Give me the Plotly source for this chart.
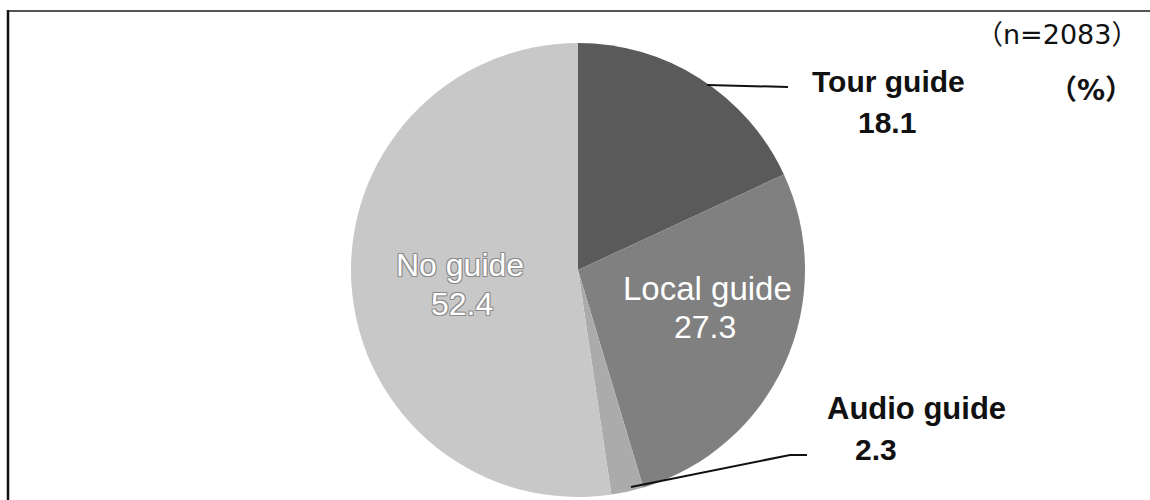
import plotly.graph_objects as go

# Guide usage shares (%), clockwise from 12 o'clock
categories = ["Tour guide", "Local guide", "Audio guide", "No guide"]
shares = [18.1, 27.3, 2.3, 52.4]
slice_colors = ["#5a5a5a", "#808080", "#ababab", "#c8c8c8"]
sample_note = "（n=2083）"
unit_note = "（%）"

W, H = 1150, 500


def px(x):
    return x / W


def py(y):
    return 1 - y / H


# pie geometry in pixels
cx, cy, r = 578, 270, 227

fig = go.Figure(
    go.Pie(
        labels=categories,
        values=shares,
        sort=False,
        direction="clockwise",
        rotation=0,
        marker=dict(colors=slice_colors, line=dict(width=0)),
        textinfo="none",
        hoverinfo="label+value",
        showlegend=False,
        domain=dict(x=[px(cx - r), px(cx + r)], y=[py(cy + r), py(cy - r)]),
    )
)

font_lbl = "Liberation Sans, Arial, sans-serif"


def label(text, x, y, color, bold, size, shadow=None):
    f = dict(family=font_lbl, size=size, color=color,
             weight="bold" if bold else "normal")
    if shadow:
        f["shadow"] = shadow
    return dict(text=text, x=px(x), y=py(y), xref="paper", yref="paper",
                showarrow=False, xanchor="center", yanchor="middle", font=f)


outline = "1px 1px 0 #8a8a8a, -1px -1px 0 #8a8a8a, 1px -1px 0 #8a8a8a, -1px 1px 0 #8a8a8a"

annotations = [
    label(categories[0], 888, 81, "#111111", True, 30),
    label(f"{shares[0]}", 887, 122, "#111111", True, 30),
    label(categories[1], 707, 288, "#ffffff", False, 33),
    label(f"{shares[1]}", 705, 327, "#ffffff", False, 32),
    label(categories[2], 916, 408, "#111111", True, 31),
    label(f"{shares[2]}", 876, 449, "#111111", True, 30),
    label(categories[3], 460, 265, "#ffffff", False, 32, outline),
    label(f"{shares[3]}", 462, 304, "#ffffff", False, 32, outline),
    dict(text=sample_note, x=px(1057), y=py(34), xref="paper", yref="paper",
         showarrow=False, xanchor="center", yanchor="middle",
         font=dict(family="DejaVu Sans, Noto Sans CJK JP", size=27,
                   color="#111111")),
    dict(text=unit_note, x=px(1091), y=py(91), xref="paper", yref="paper",
         showarrow=False, xanchor="center", yanchor="middle",
         font=dict(family="DejaVu Sans, Noto Sans CJK JP", size=28,
                   color="#111111", weight="bold")),
]


def path(points):
    return "M " + " L ".join(f"{px(x)},{py(y)}" for x, y in points)


shapes = [
    # frame: top rule and left rule
    dict(type="line", xref="paper", yref="paper", x0=px(7), x1=1,
         y0=py(11), y1=py(11), line=dict(color="#555555", width=2)),
    dict(type="line", xref="paper", yref="paper", x0=px(8), x1=px(8),
         y0=py(10), y1=0, line=dict(color="#111111", width=2.5)),
    # leader lines
    dict(type="path", xref="paper", yref="paper",
         path=path([(707, 85), (788, 87)]),
         line=dict(color="#111111", width=2)),
    dict(type="path", xref="paper", yref="paper",
         path=path([(631, 487), (790, 455), (807, 455)]),
         line=dict(color="#111111", width=2)),
]

fig.update_layout(
    width=W,
    height=H,
    margin=dict(l=0, r=0, t=0, b=0),
    paper_bgcolor="#ffffff",
    plot_bgcolor="#ffffff",
    annotations=annotations,
    shapes=shapes,
)

fig.write_html("out.html")
